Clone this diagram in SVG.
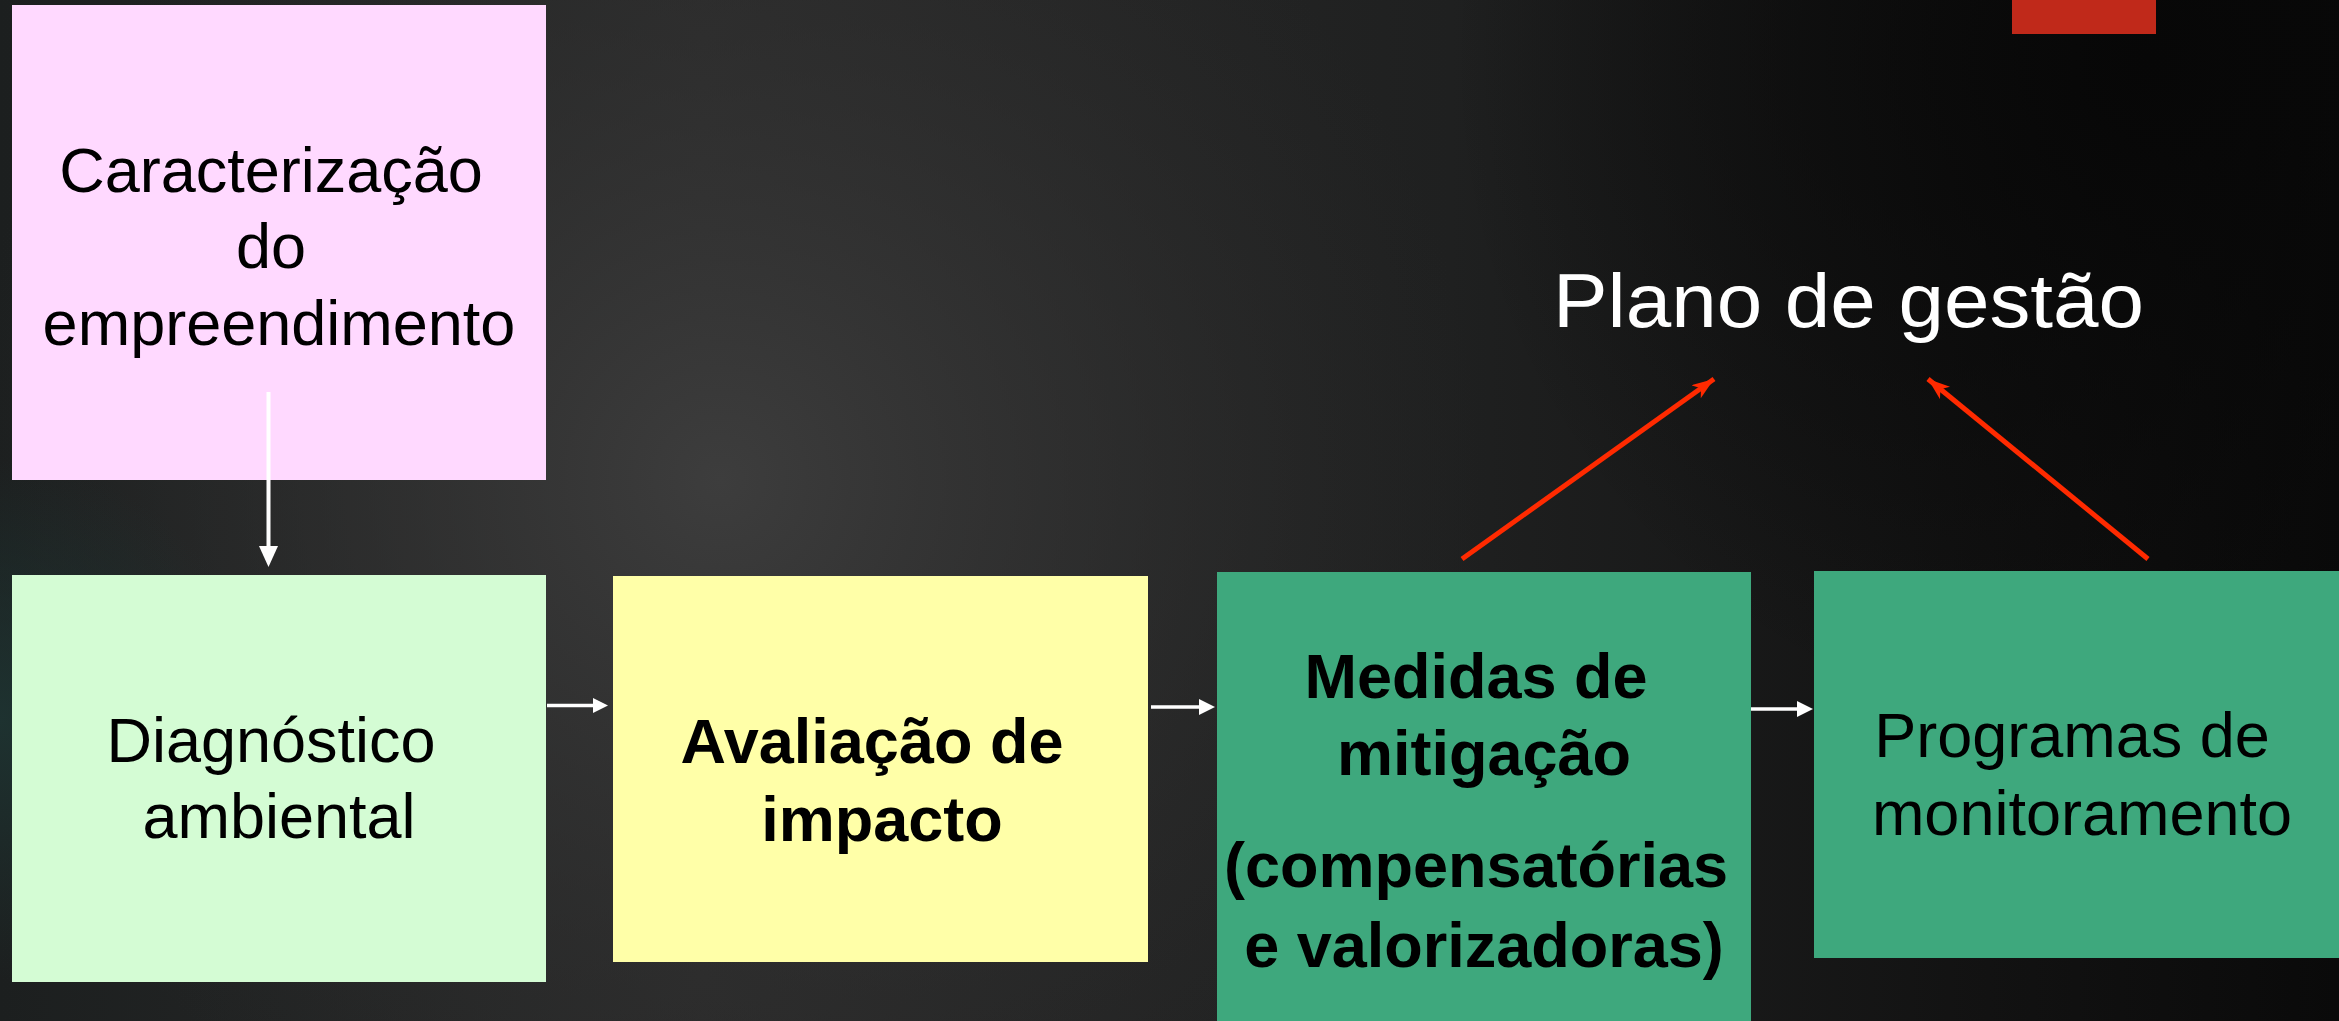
<svg xmlns="http://www.w3.org/2000/svg" width="2339" height="1021" viewBox="0 0 2339 1021">
  <defs>
    <linearGradient id="bgLin" x1="0" y1="0" x2="1" y2="0">
      <stop offset="0" stop-color="#1c1f1f"/>
      <stop offset="0.3" stop-color="#2b2b2b"/>
      <stop offset="0.62" stop-color="#1f2020"/>
      <stop offset="0.85" stop-color="#121212"/>
      <stop offset="1" stop-color="#0a0a0a"/>
    </linearGradient>
    <radialGradient id="bgGlow" cx="720" cy="480" r="760" gradientUnits="userSpaceOnUse">
      <stop offset="0" stop-color="#3d3d3d" stop-opacity="1"/>
      <stop offset="0.5" stop-color="#333333" stop-opacity="0.55"/>
      <stop offset="1" stop-color="#2a2a2a" stop-opacity="0"/>
    </radialGradient>
    <radialGradient id="bgDark" cx="2150" cy="60" r="700" gradientUnits="userSpaceOnUse">
      <stop offset="0" stop-color="#070707" stop-opacity="1"/>
      <stop offset="1" stop-color="#070707" stop-opacity="0"/>
    </radialGradient>
    <radialGradient id="bgTeal" cx="0" cy="720" r="260" gradientUnits="userSpaceOnUse">
      <stop offset="0" stop-color="#1e3432" stop-opacity="0.9"/>
      <stop offset="1" stop-color="#1e3432" stop-opacity="0"/>
    </radialGradient>
    <marker id="redHead" viewBox="0 0 22 16" refX="22" refY="8" markerWidth="22" markerHeight="16" markerUnits="userSpaceOnUse" orient="auto">
      <path d="M0,0 L22,8 L0,16 L6,8 Z" fill="#ff2a00"/>
    </marker>
    <style>
      .lbl { font-family: "Liberation Sans", Arial, sans-serif; font-size: 63px; fill: #000; text-anchor: middle; }
      .bold { font-weight: bold; }
      .wline { stroke: #ffffff; stroke-width: 3.5; fill: none; }
      .whead { fill: #ffffff; }
      .rline { stroke: #ff2a00; stroke-width: 5; fill: none; marker-end: url(#redHead); }
    </style>
  </defs>

  <!-- background -->
  <rect x="0" y="0" width="2339" height="1021" fill="url(#bgLin)"/>
  <rect x="0" y="0" width="2339" height="1021" fill="url(#bgGlow)"/>
  <rect x="0" y="0" width="2339" height="1021" fill="url(#bgDark)"/>
  <rect x="0" y="0" width="2339" height="1021" fill="url(#bgTeal)"/>
  <rect x="2012" y="0" width="144" height="34" fill="#c0291a"/>

  <g id="node-caracterizacao">
    <rect x="12" y="5" width="534" height="475" fill="#ffd9ff"/>
    <text class="lbl" x="271" y="192">Caracterização</text>
    <text class="lbl" x="271" y="268">do</text>
    <text class="lbl" x="279" y="345">empreendimento</text>
  </g>

  <g id="node-diagnostico">
    <rect x="12" y="575" width="534" height="407" fill="#d4fcd4"/>
    <text class="lbl" x="271" y="762">Diagnóstico</text>
    <text class="lbl" x="279" y="838">ambiental</text>
  </g>

  <g id="node-avaliacao">
    <rect x="613" y="576" width="535" height="386" fill="#ffffa8"/>
    <text class="lbl bold" x="872" y="763">Avaliação de</text>
    <text class="lbl bold" x="882" y="841">impacto</text>
  </g>

  <g id="node-medidas">
    <rect x="1217" y="572" width="534" height="449" fill="#3ea87d"/>
    <text class="lbl bold" x="1476" y="698">Medidas de</text>
    <text class="lbl bold" x="1484" y="775">mitigação</text>
    <text class="lbl bold" x="1476" y="887">(compensatórias</text>
    <text class="lbl bold" x="1484" y="967">e valorizadoras)</text>
  </g>

  <g id="node-programas">
    <rect x="1814" y="571" width="525" height="387" fill="#3ea87d"/>
    <text class="lbl" x="2072" y="757">Programas de</text>
    <text class="lbl" x="2082" y="835">monitoramento</text>
  </g>

  <g id="node-plano">
    <text x="1553" y="327" font-family="'Liberation Sans', Arial, sans-serif" font-size="76" fill="#ffffff" textLength="591" lengthAdjust="spacingAndGlyphs">Plano de gestão</text>
  </g>

  <g id="connectors">
    <line class="wline" x1="268.5" y1="392" x2="268.5" y2="548" style="stroke-width:4"/>
    <polygon class="whead" points="259,546 278,546 268.5,567"/>

    <line class="wline" x1="547" y1="705.5" x2="595" y2="705.5"/>
    <polygon class="whead" points="593,698 608,705.5 593,713"/>

    <line class="wline" x1="1151" y1="707" x2="1201" y2="707"/>
    <polygon class="whead" points="1199,699 1215,707 1199,715"/>

    <line class="wline" x1="1751" y1="709" x2="1799" y2="709"/>
    <polygon class="whead" points="1797,701 1813,709 1797,717"/>

    <line class="rline" x1="1462" y1="559" x2="1714" y2="379"/>
    <line class="rline" x1="2148" y1="559" x2="1928" y2="379"/>
  </g>
</svg>
